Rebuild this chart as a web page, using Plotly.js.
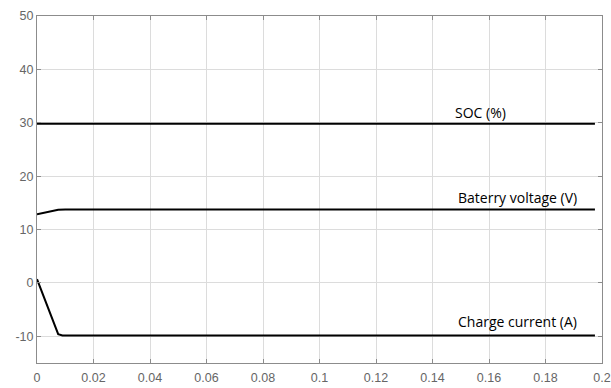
<!DOCTYPE html>
<html><head><meta charset="utf-8">
<script src="https://cdn.plot.ly/plotly-3.0.1.min.js"></script>
<style>html,body{margin:0;padding:0;background:#fff}#c{width:611px;height:388px}</style>
</head><body><div id="c"></div>
<script>
const socX = [0, 0.1975];
const socY = [29.8, 29.8];
const voltX = [0, 0.0075, 0.01, 0.1975];
const voltY = [12.85, 13.7, 13.75, 13.75];
const curX = [0, 0.0075, 0.009, 0.1975];
const curY = [0.7, -9.6, -9.85, -9.85];
const xTicks = [0, 0.02, 0.04, 0.06, 0.08, 0.1, 0.12, 0.14, 0.16, 0.18, 0.2];
const xTickText = ['0','0.02','0.04','0.06','0.08','0.1','0.12','0.14','0.16','0.18','0.2'];
const yTicks = [-10, 0, 10, 20, 30, 40, 50];
const yTickText = ['-10','0','10','20','30','40','50'];
const labels = ["SOC (%)", "Baterry voltage (V)", "Charge current (A)"];
const labelX = [0.157, 0.170, 0.170];
const labelY = [31.9, 16.0, -7.3];

const line = {color: '#000', width: 2};
const traces = [
  {x: socX, y: socY, mode: 'lines', line: line, hoverinfo: 'skip'},
  {x: voltX, y: voltY, mode: 'lines', line: line, hoverinfo: 'skip'},
  {x: curX, y: curY, mode: 'lines', line: line, hoverinfo: 'skip'}
];
const axisCommon = {
  showline: true, linecolor: '#8c8c8c', linewidth: 1, mirror: 'ticks',
  showgrid: true, gridcolor: '#dcdcdc', gridwidth: 1, zeroline: false,
  ticks: 'inside', ticklen: 4, tickcolor: '#8c8c8c',
  tickfont: {family: 'Liberation Sans, Arial, sans-serif', size: 12.5, color: '#666'}
};
const layout = {
  width: 611, height: 388,
  margin: {l: 37, r: 9, t: 16, b: 24.5},
  paper_bgcolor: '#fff', plot_bgcolor: '#fff',
  showlegend: false,
  xaxis: Object.assign({}, axisCommon, {range: [0, 0.2], tickvals: xTicks, ticktext: xTickText, ticklabelstandoff: 3}),
  yaxis: Object.assign({}, axisCommon, {range: [-15, 50], tickvals: yTicks, ticktext: yTickText}),
  annotations: labels.map((t, i) => ({x: labelX[i], y: labelY[i], text: t, showarrow: false,
    font: {family: 'Open Sans, sans-serif', size: 14, color: '#000'}, xanchor: 'center', yanchor: 'middle'}))
};
Plotly.newPlot('c', traces, layout, {staticPlot: true, displayModeBar: false});
</script></body></html>
